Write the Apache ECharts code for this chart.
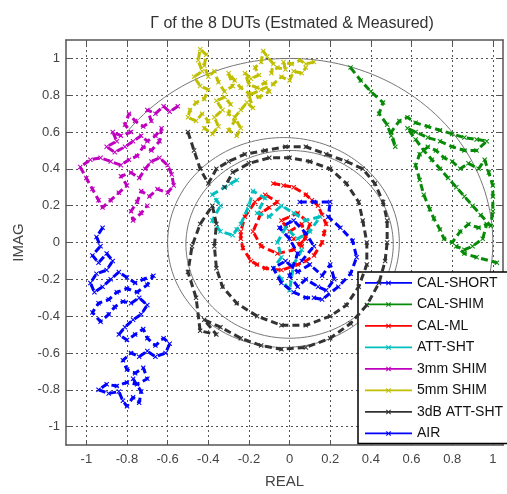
<!DOCTYPE html>
<html>
<head>
<meta charset="utf-8">
<title>Γ of the 8 DUTs</title>
<script src="https://cdn.jsdelivr.net/npm/echarts/dist/echarts.min.js"></script>
<style>
  html, body { margin: 0; padding: 0; background: #fff; }
  #chart { width: 507px; height: 494px; }
</style>
</head>
<body>
<div id="chart"></div>
<script>
// Tick positions shared by both axes
const axisTicks = [-1, -0.8, -0.6, -0.4, -0.2, 0, 0.2, 0.4, 0.6, 0.8, 1];

const seriesNames = ['CAL-SHORT', 'CAL-SHIM', 'CAL-ML', 'ATT-SHT', '3mm SHIM', '5mm SHIM', '3dB ATT-SHT', 'AIR'];

// Reflection coefficient traces, [real, imag]
const calShort = [[-0.92,0.08],[-0.95,0.03],[-0.93,-0.02],[-0.97,-0.07],[-0.94,-0.11],[-0.9,-0.06],[-0.87,-0.1],[-0.9,-0.15],[-0.95,-0.17],[-0.98,-0.22],[-0.96,-0.27],[-0.92,-0.24],[-0.88,-0.2],[-0.84,-0.16],[-0.8,-0.19],[-0.76,-0.22],[-0.72,-0.2],[-0.67,-0.18],[-0.7,-0.23],[-0.75,-0.27],[-0.8,-0.25],[-0.85,-0.27],[-0.89,-0.31],[-0.94,-0.33],[-0.97,-0.38],[-0.93,-0.43],[-0.89,-0.39],[-0.86,-0.35],[-0.82,-0.32],[-0.78,-0.33],[-0.74,-0.3],[-0.7,-0.34],[-0.73,-0.39],[-0.77,-0.42],[-0.81,-0.46],[-0.84,-0.5],[-0.8,-0.53],[-0.76,-0.5],[-0.72,-0.47],[-0.7,-0.52],[-0.66,-0.56],[-0.62,-0.52],[-0.59,-0.55],[-0.61,-0.6],[-0.66,-0.62],[-0.7,-0.59],[-0.74,-0.62],[-0.78,-0.6],[-0.82,-0.64],[-0.8,-0.69],[-0.76,-0.71],[-0.72,-0.68],[-0.7,-0.74],[-0.75,-0.77],[-0.8,-0.76],[-0.85,-0.78],[-0.9,-0.77],[-0.94,-0.8],[-0.89,-0.82],[-0.84,-0.81],[-0.82,-0.86],[-0.8,-0.89],[-0.77,-0.84],[-0.74,-0.87],[-0.73,-0.81],[-0.77,-0.74]];

const calShim = [[0.3,0.95],[0.35,0.88],[0.4,0.82],[0.46,0.76],[0.44,0.7],[0.48,0.64],[0.5,0.58],[0.52,0.52],[0.5,0.6],[0.54,0.66],[0.58,0.68],[0.62,0.65],[0.68,0.63],[0.74,0.61],[0.8,0.59],[0.86,0.57],[0.92,0.56],[0.97,0.55],[0.92,0.5],[0.86,0.5],[0.8,0.52],[0.74,0.55],[0.68,0.57],[0.62,0.6],[0.58,0.62],[0.62,0.56],[0.66,0.5],[0.7,0.45],[0.74,0.4],[0.78,0.35],[0.82,0.3],[0.86,0.25],[0.9,0.2],[0.94,0.15],[0.99,0.09],[1.0,0.17],[1.0,0.25],[1.0,0.31],[0.98,0.38],[0.96,0.45],[0.93,0.4],[0.88,0.43],[0.84,0.4],[0.8,0.44],[0.76,0.46],[0.72,0.5],[0.68,0.52],[0.64,0.48],[0.62,0.42],[0.64,0.34],[0.66,0.26],[0.69,0.18],[0.71,0.13],[0.74,0.07],[0.76,0.02],[0.8,0.0],[0.84,0.06],[0.88,0.1],[0.93,0.08],[0.97,0.1],[0.95,0.02],[0.9,-0.02],[0.86,-0.04],[0.82,-0.02],[0.86,-0.06],[0.92,-0.08],[1.02,-0.11]];

const calMl = [[-0.08,0.32],[-0.03,0.31],[0.02,0.3],[0.08,0.26],[0.11,0.23],[0.14,0.2],[0.16,0.15],[0.18,0.1],[0.17,0.05],[0.16,0.0],[0.12,-0.07],[0.08,-0.1],[0.04,-0.12],[-0.04,-0.15],[-0.12,-0.14],[-0.16,-0.12],[-0.19,-0.1],[-0.23,-0.03],[-0.24,0.02],[-0.24,0.06],[-0.22,0.14],[-0.17,0.22],[-0.12,0.26],[-0.06,0.22],[-0.1,0.19],[-0.14,0.16],[-0.18,0.06],[-0.14,-0.02],[-0.06,-0.06],[0.02,-0.04],[0.08,0.02],[0.06,0.1],[0.0,0.06],[-0.04,0.12],[0.04,0.16],[0.1,0.1],[0.06,-0.02],[0.02,0.02]];

const attSht = [[-0.26,0.34],[-0.29,0.32],[-0.32,0.3],[-0.38,0.26],[-0.36,0.23],[-0.34,0.2],[-0.38,0.12],[-0.34,0.06],[-0.28,0.04],[-0.26,0.07],[-0.24,0.1],[-0.2,0.2],[-0.18,0.28],[-0.12,0.24],[-0.16,0.16],[-0.1,0.14],[-0.04,0.2],[0.02,0.16],[0.08,0.12],[0.15,0.14],[0.1,0.06],[0.04,0.02],[-0.02,0.08],[-0.06,0.0],[-0.04,-0.08],[-0.08,-0.14],[-0.04,-0.2],[0.0,-0.26],[0.02,-0.12],[0.06,-0.04]];

const shim3mm = [[-0.55,0.74],[-0.59,0.71],[-0.62,0.74],[-0.66,0.7],[-0.7,0.72],[-0.68,0.66],[-0.72,0.63],[-0.76,0.66],[-0.79,0.7],[-0.81,0.64],[-0.78,0.6],[-0.83,0.58],[-0.87,0.6],[-0.85,0.55],[-0.9,0.52],[-0.86,0.49],[-0.81,0.52],[-0.77,0.55],[-0.73,0.58],[-0.7,0.55],[-0.66,0.58],[-0.63,0.62],[-0.64,0.55],[-0.68,0.5],[-0.72,0.52],[-0.75,0.47],[-0.79,0.45],[-0.83,0.42],[-0.88,0.44],[-0.93,0.46],[-0.98,0.45],[-1.03,0.41],[-1.0,0.35],[-0.97,0.29],[-0.94,0.23],[-0.92,0.19],[-0.88,0.23],[-0.84,0.27],[-0.8,0.31],[-0.83,0.36],[-0.78,0.38],[-0.74,0.35],[-0.71,0.4],[-0.68,0.44],[-0.64,0.46],[-0.6,0.42],[-0.58,0.37],[-0.57,0.31],[-0.6,0.27],[-0.65,0.29],[-0.69,0.25],[-0.73,0.28],[-0.75,0.22],[-0.78,0.17],[-0.77,0.12],[-0.73,0.16],[-0.7,0.2]];

const shim5mm = [[0.12,0.98],[0.08,0.97],[0.05,0.99],[0.01,0.97],[-0.03,0.98],[-0.02,0.94],[-0.06,0.95],[-0.09,0.92],[-0.08,0.97],[-0.11,1.01],[-0.13,1.04],[-0.14,0.98],[-0.17,0.95],[-0.15,0.91],[-0.19,0.89],[-0.22,0.92],[-0.2,0.86],[-0.16,0.84],[-0.12,0.87],[-0.1,0.82],[-0.15,0.79],[-0.2,0.81],[-0.24,0.84],[-0.27,0.88],[-0.3,0.92],[-0.28,0.85],[-0.32,0.82],[-0.35,0.87],[-0.37,0.93],[-0.4,0.9],[-0.42,0.96],[-0.41,1.02],[-0.44,1.05],[-0.45,0.99],[-0.43,0.93],[-0.47,0.9],[-0.44,0.85],[-0.4,0.83],[-0.42,0.78],[-0.46,0.76],[-0.49,0.72],[-0.5,0.68],[-0.46,0.66],[-0.43,0.7],[-0.4,0.66],[-0.42,0.62],[-0.38,0.59],[-0.35,0.63],[-0.37,0.68],[-0.33,0.72],[-0.36,0.77],[-0.32,0.79],[-0.29,0.75],[-0.3,0.7],[-0.27,0.66],[-0.3,0.61],[-0.26,0.58],[-0.24,0.62],[-0.27,0.68],[-0.24,0.72],[-0.21,0.76],[-0.18,0.73],[-0.2,0.8],[-0.14,0.83],[-0.08,0.86],[-0.04,0.9],[0.0,0.88],[0.02,0.93],[0.06,0.92],[0.08,0.95]];

const att3dB = [[-0.5,0.6],[-0.47,0.5],[-0.44,0.4],[-0.4,0.32],[-0.36,0.4],[-0.3,0.44],[-0.22,0.48],[-0.12,0.5],[-0.02,0.52],[0.08,0.52],[0.18,0.48],[0.28,0.44],[0.36,0.4],[0.42,0.32],[0.46,0.22],[0.48,0.12],[0.48,0.0],[0.47,-0.1],[0.44,-0.22],[0.38,-0.34],[0.3,-0.44],[0.2,-0.52],[0.08,-0.57],[-0.04,-0.58],[-0.14,-0.56],[-0.24,-0.52],[-0.34,-0.46],[-0.42,-0.42],[-0.36,-0.5],[-0.44,-0.48],[-0.46,-0.3],[-0.5,-0.16],[-0.48,-0.02],[-0.44,0.1],[-0.38,0.2],[-0.36,0.1],[-0.37,-0.02],[-0.36,-0.14],[-0.33,-0.24],[-0.26,-0.33],[-0.16,-0.4],[-0.04,-0.45],[0.08,-0.45],[0.2,-0.4],[0.28,-0.34],[0.34,-0.24],[0.38,-0.12],[0.38,0.0],[0.36,0.12],[0.34,0.22],[0.28,0.32],[0.2,0.4],[0.1,0.44],[0.0,0.46],[-0.1,0.46],[-0.2,0.43],[-0.28,0.38],[-0.32,0.3]];

const air = [[0.05,0.22],[0.12,0.22],[0.2,0.22],[0.19,0.14],[0.25,0.08],[0.31,0.01],[0.33,-0.08],[0.3,-0.17],[0.24,-0.24],[0.16,-0.31],[0.12,-0.3],[0.08,-0.3],[0.02,-0.27],[-0.04,-0.22],[-0.08,-0.14],[-0.02,-0.1],[0.04,-0.16],[0.1,-0.12],[0.16,-0.18],[0.2,-0.12],[0.22,-0.2],[0.18,-0.26],[0.14,-0.24],[0.08,-0.2],[0.04,-0.24],[0.0,-0.18],[0.04,-0.06],[0.0,0.02],[-0.05,0.08],[0.02,0.12],[0.08,0.05],[0.12,-0.02],[0.06,-0.1]];

// Estimated loci: [centre real, centre imag, radius, start deg, end deg]
const estimatedArcs = [
  [0, 0, 1.0, -10, 145],
  [-0.03, 0, 0.57, 0, 360],
  [0, -0.01, 0.51, 0, 360]
];

const traces = [calShort, calShim, calMl, attSht, shim3mm, shim5mm, att3dB, air];
const colors = ['#0000ff', '#078a07', '#ff0000', '#00bfbf', '#bf00bf', '#bfbf00', '#333333', '#0000ff'];

function arcPoints(a) {
  const pts = [];
  for (let d = a[3]; d <= a[4] + 1e-9; d += 2) {
    const t = d * Math.PI / 180;
    pts.push([a[0] + a[2] * Math.cos(t), a[1] + a[2] * Math.sin(t)]);
  }
  return pts;
}

const FONT = '"Liberation Sans", Arial, Helvetica, sans-serif';
const tickFmt = v => (Math.abs(v) < 1e-9 ? '0' : String(+v.toFixed(1)));

// Legend glyph: solid line with a small cross at its middle
const legendIcon = 'path://M0,4.2L47,4.2L47,5.8L0,5.8Z' +
  'M21,3.3L21.7,2.6L26,6.9L25.3,7.6Z' +
  'M21,6.9L25.3,2.6L26,3.3L21.7,7.6Z';
// Point marker: small x
const crossMark = 'path://M0,1.5L1.5,0L10,8.5L8.5,10Z M8.5,0L10,1.5L1.5,10L0,8.5Z';

const frame = { show: true, onZero: false, lineStyle: { color: '#555', width: 1.5 } };
const innerTick = { show: true, inside: true, length: 5, customValues: axisTicks, lineStyle: { color: '#555', width: 1 } };
const gridLine = { show: true, lineStyle: { color: '#555', width: 1, type: [2, 3] } };

const series = [];
estimatedArcs.forEach(a => {
  series.push({
    type: 'line', data: arcPoints(a), symbol: 'none', silent: true, z: 1,
    lineStyle: { color: '#777', width: 1 }, animation: false
  });
});
traces.forEach((t, i) => {
  series.push({
    name: seriesNames[i], type: 'line', data: t, z: 2 + i,
    symbol: crossMark, symbolSize: 5, showSymbol: true, showAllSymbol: true,
    color: colors[i],
    itemStyle: { color: colors[i], borderWidth: 0 },
    lineStyle: { color: colors[i], width: 3, type: [7, 4] },
    animation: false
  });
});

const chart = echarts.init(document.getElementById('chart'), null, { renderer: 'canvas' });
chart.setOption({
  backgroundColor: '#fff',
  animation: false,
  title: {
    text: 'Γ of the 8 DUTs (Estmated & Measured)',
    left: 287, top: 11, textAlign: 'center',
    textStyle: { fontFamily: FONT, fontSize: 16, fontWeight: 'normal', color: '#333' }
  },
  grid: { left: 66, right: 4, top: 40, bottom: 45, containLabel: false },
  xAxis: [{
    type: 'value', min: -1.1, max: 1.05, position: 'bottom',
    axisLine: frame, axisTick: innerTick, splitLine: gridLine,
    axisLabel: { customValues: axisTicks, formatter: tickFmt, color: '#444', fontSize: 13, fontFamily: FONT, margin: 8 },
    name: 'REAL', nameLocation: 'middle', nameGap: 29,
    nameTextStyle: { fontFamily: FONT, fontSize: 15, color: '#444' }
  }, {
    type: 'value', min: -1.1, max: 1.05, position: 'top',
    axisLine: frame, axisTick: innerTick, splitLine: { show: false }, axisLabel: { show: false }
  }],
  yAxis: [{
    type: 'value', min: -1.1, max: 1.1, position: 'left',
    axisLine: frame, axisTick: innerTick, splitLine: gridLine,
    axisLabel: { customValues: axisTicks, formatter: tickFmt, color: '#444', fontSize: 13, fontFamily: FONT, margin: 6 },
    name: 'IMAG', nameLocation: 'middle', nameGap: 33, nameRotate: 90,
    nameTextStyle: { fontFamily: FONT, fontSize: 15, color: '#444' }
  }, {
    type: 'value', min: -1.1, max: 1.1, position: 'right',
    axisLine: frame, axisTick: innerTick, splitLine: { show: false }, axisLabel: { show: false }
  }],
  legend: {
    data: seriesNames, orient: 'vertical', left: 358, top: 272,
    itemWidth: 47, itemHeight: 10, itemGap: 7.5, icon: legendIcon,
    padding: [4, 20, 3, 7],
    borderColor: '#000', borderWidth: 1.5, backgroundColor: '#fff',
    selectedMode: false,
    itemStyle: { borderWidth: 0 },
    lineStyle: { width: 0 },
    textStyle: { fontFamily: FONT, fontSize: 14, color: '#111', lineHeight: 14 }
  },
  series: series
});
</script>
</body>
</html>
